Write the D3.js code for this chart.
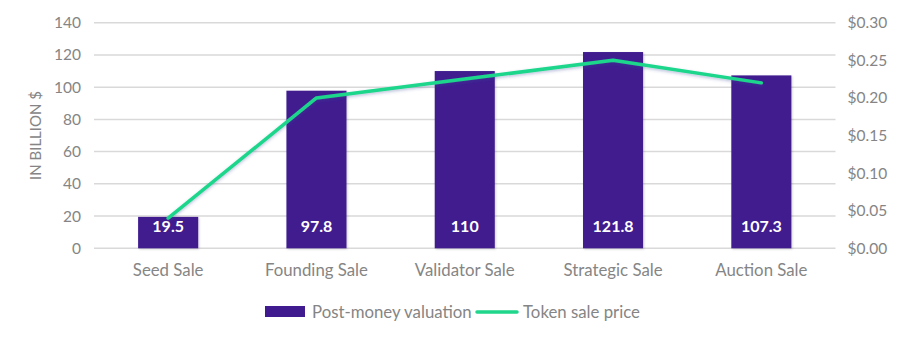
<!DOCTYPE html>
<html><head><meta charset="utf-8">
<script src="https://cdn.jsdelivr.net/npm/d3@7"></script>
<style>
html,body{margin:0;padding:0;background:#fff;}
svg{display:block;font-family:Lato, "Open Sans", sans-serif;}
</style></head>
<body><svg id="chart" width="908" height="341"></svg>
<script>
const categories = ["Seed Sale","Founding Sale","Validator Sale","Strategic Sale","Auction Sale"];
const valuation = [19.5, 97.8, 110, 121.8, 107.3];
const tokenPrice = [0.04, 0.20, 0.225, 0.25, 0.22];
const leftTicks = [0,20,40,60,80,100,120,140];
const rightTicks = [0,0.05,0.10,0.15,0.20,0.25,0.30];
const seriesNames = ["Post-money valuation","Token sale price"];
const yTitle = "IN BILLION $";

(function(){
const barColor = "#401b8f", lineColor = "#1fd68c", textColor = "#858585", gridColor = "#d9d9d9";
const fs = 15.5, fsCat = 16.8;

const svg = d3.select("#chart");
const pL = 94, pR = 835.5, pT = 22.7, pB = 248.3;

const defs = svg.append("defs");
const f = defs.append("filter").attr("id","sh").attr("x","-20%").attr("y","-20%").attr("width","140%").attr("height","160%");
f.append("feDropShadow").attr("dx",0).attr("dy",1.5).attr("stdDeviation",1.5).attr("flood-color","#3a4a9a").attr("flood-opacity",0.35);
const fb = defs.append("filter").attr("id","shb").attr("x","-20%").attr("y","-20%").attr("width","140%").attr("height","140%");
fb.append("feDropShadow").attr("dx",1).attr("dy",1).attr("stdDeviation",1.2).attr("flood-color","#000").attr("flood-opacity",0.18);

const x = d3.scaleBand().domain(categories).range([pL,pR]).paddingInner(0.595).paddingOuter(0.2975);
const y = d3.scaleLinear().domain([0,140]).range([pB,pT]);
const y2 = d3.scaleLinear().domain([0,0.30]).range([pB,pT]);

svg.append("g").selectAll("line").data(leftTicks).join("line")
  .attr("x1",pL).attr("x2",pR)
  .attr("y1",d=>y(d)).attr("y2",d=>y(d))
  .attr("stroke",gridColor).attr("stroke-width",1.5);

const gl = svg.append("g").attr("transform",`translate(${pL},0)`)
  .call(d3.axisLeft(y).tickValues(leftTicks).tickSize(0).tickPadding(13));
gl.select(".domain").remove();
gl.selectAll("text").attr("fill",textColor).style("font-size",fs+"px").style("font-family","Lato");

const gr = svg.append("g").attr("transform",`translate(${pR},0)`)
  .call(d3.axisRight(y2).tickValues(rightTicks).tickSize(0).tickPadding(12).tickFormat(d=>"$"+d3.format(".2f")(d)));
gr.select(".domain").remove();
gr.selectAll("text").attr("fill",textColor).style("font-size",fs+"px").style("font-family","Lato");

const gx = svg.append("g").attr("transform",`translate(0,${pB})`)
  .call(d3.axisBottom(x).tickSize(0).tickPadding(16));
gx.select(".domain").remove();
gx.selectAll("text").attr("fill",textColor).style("font-size",fsCat+"px").style("font-family","Lato");

svg.append("text").attr("transform",`translate(41,${(pT+pB)/2}) rotate(-90)`)
  .attr("text-anchor","middle").attr("fill",textColor).style("font-size","15px").text(yTitle);

svg.append("g").selectAll("rect").data(valuation).join("rect")
  .attr("x",(d,i)=>x(categories[i])).attr("width",x.bandwidth())
  .attr("y",d=>y(d)).attr("height",d=>pB-y(d))
  .attr("fill",barColor).attr("filter","url(#shb)");

svg.append("g").selectAll("text").data(valuation).join("text")
  .attr("x",(d,i)=>x(categories[i])+x.bandwidth()/2).attr("y",pB-16)
  .attr("text-anchor","middle").attr("fill","#fff").style("font-weight","bold").style("font-size","16px")
  .text(d=>d);

const line = d3.line().x((d,i)=>x(categories[i])+x.bandwidth()/2).y(d=>y2(d));
svg.append("path").datum(tokenPrice).attr("d",line).attr("fill","none")
  .attr("stroke",lineColor).attr("stroke-width",3.5).attr("stroke-linejoin","round").attr("stroke-linecap","round").attr("filter","url(#sh)");

const lg = svg.append("g");
lg.append("rect").attr("x",265).attr("y",306).attr("width",40).attr("height",11).attr("fill",barColor);
lg.append("text").attr("x",312).attr("y",317.5).attr("fill",textColor).style("font-size",fsCat+"px").text(seriesNames[0]);
lg.append("line").attr("x1",477).attr("x2",517).attr("y1",312).attr("y2",312).attr("stroke",lineColor).attr("stroke-width",3.5).attr("stroke-linecap","round");
lg.append("text").attr("x",523).attr("y",317.5).attr("fill",textColor).style("font-size",fsCat+"px").text(seriesNames[1]);
})();
</script></body></html>
